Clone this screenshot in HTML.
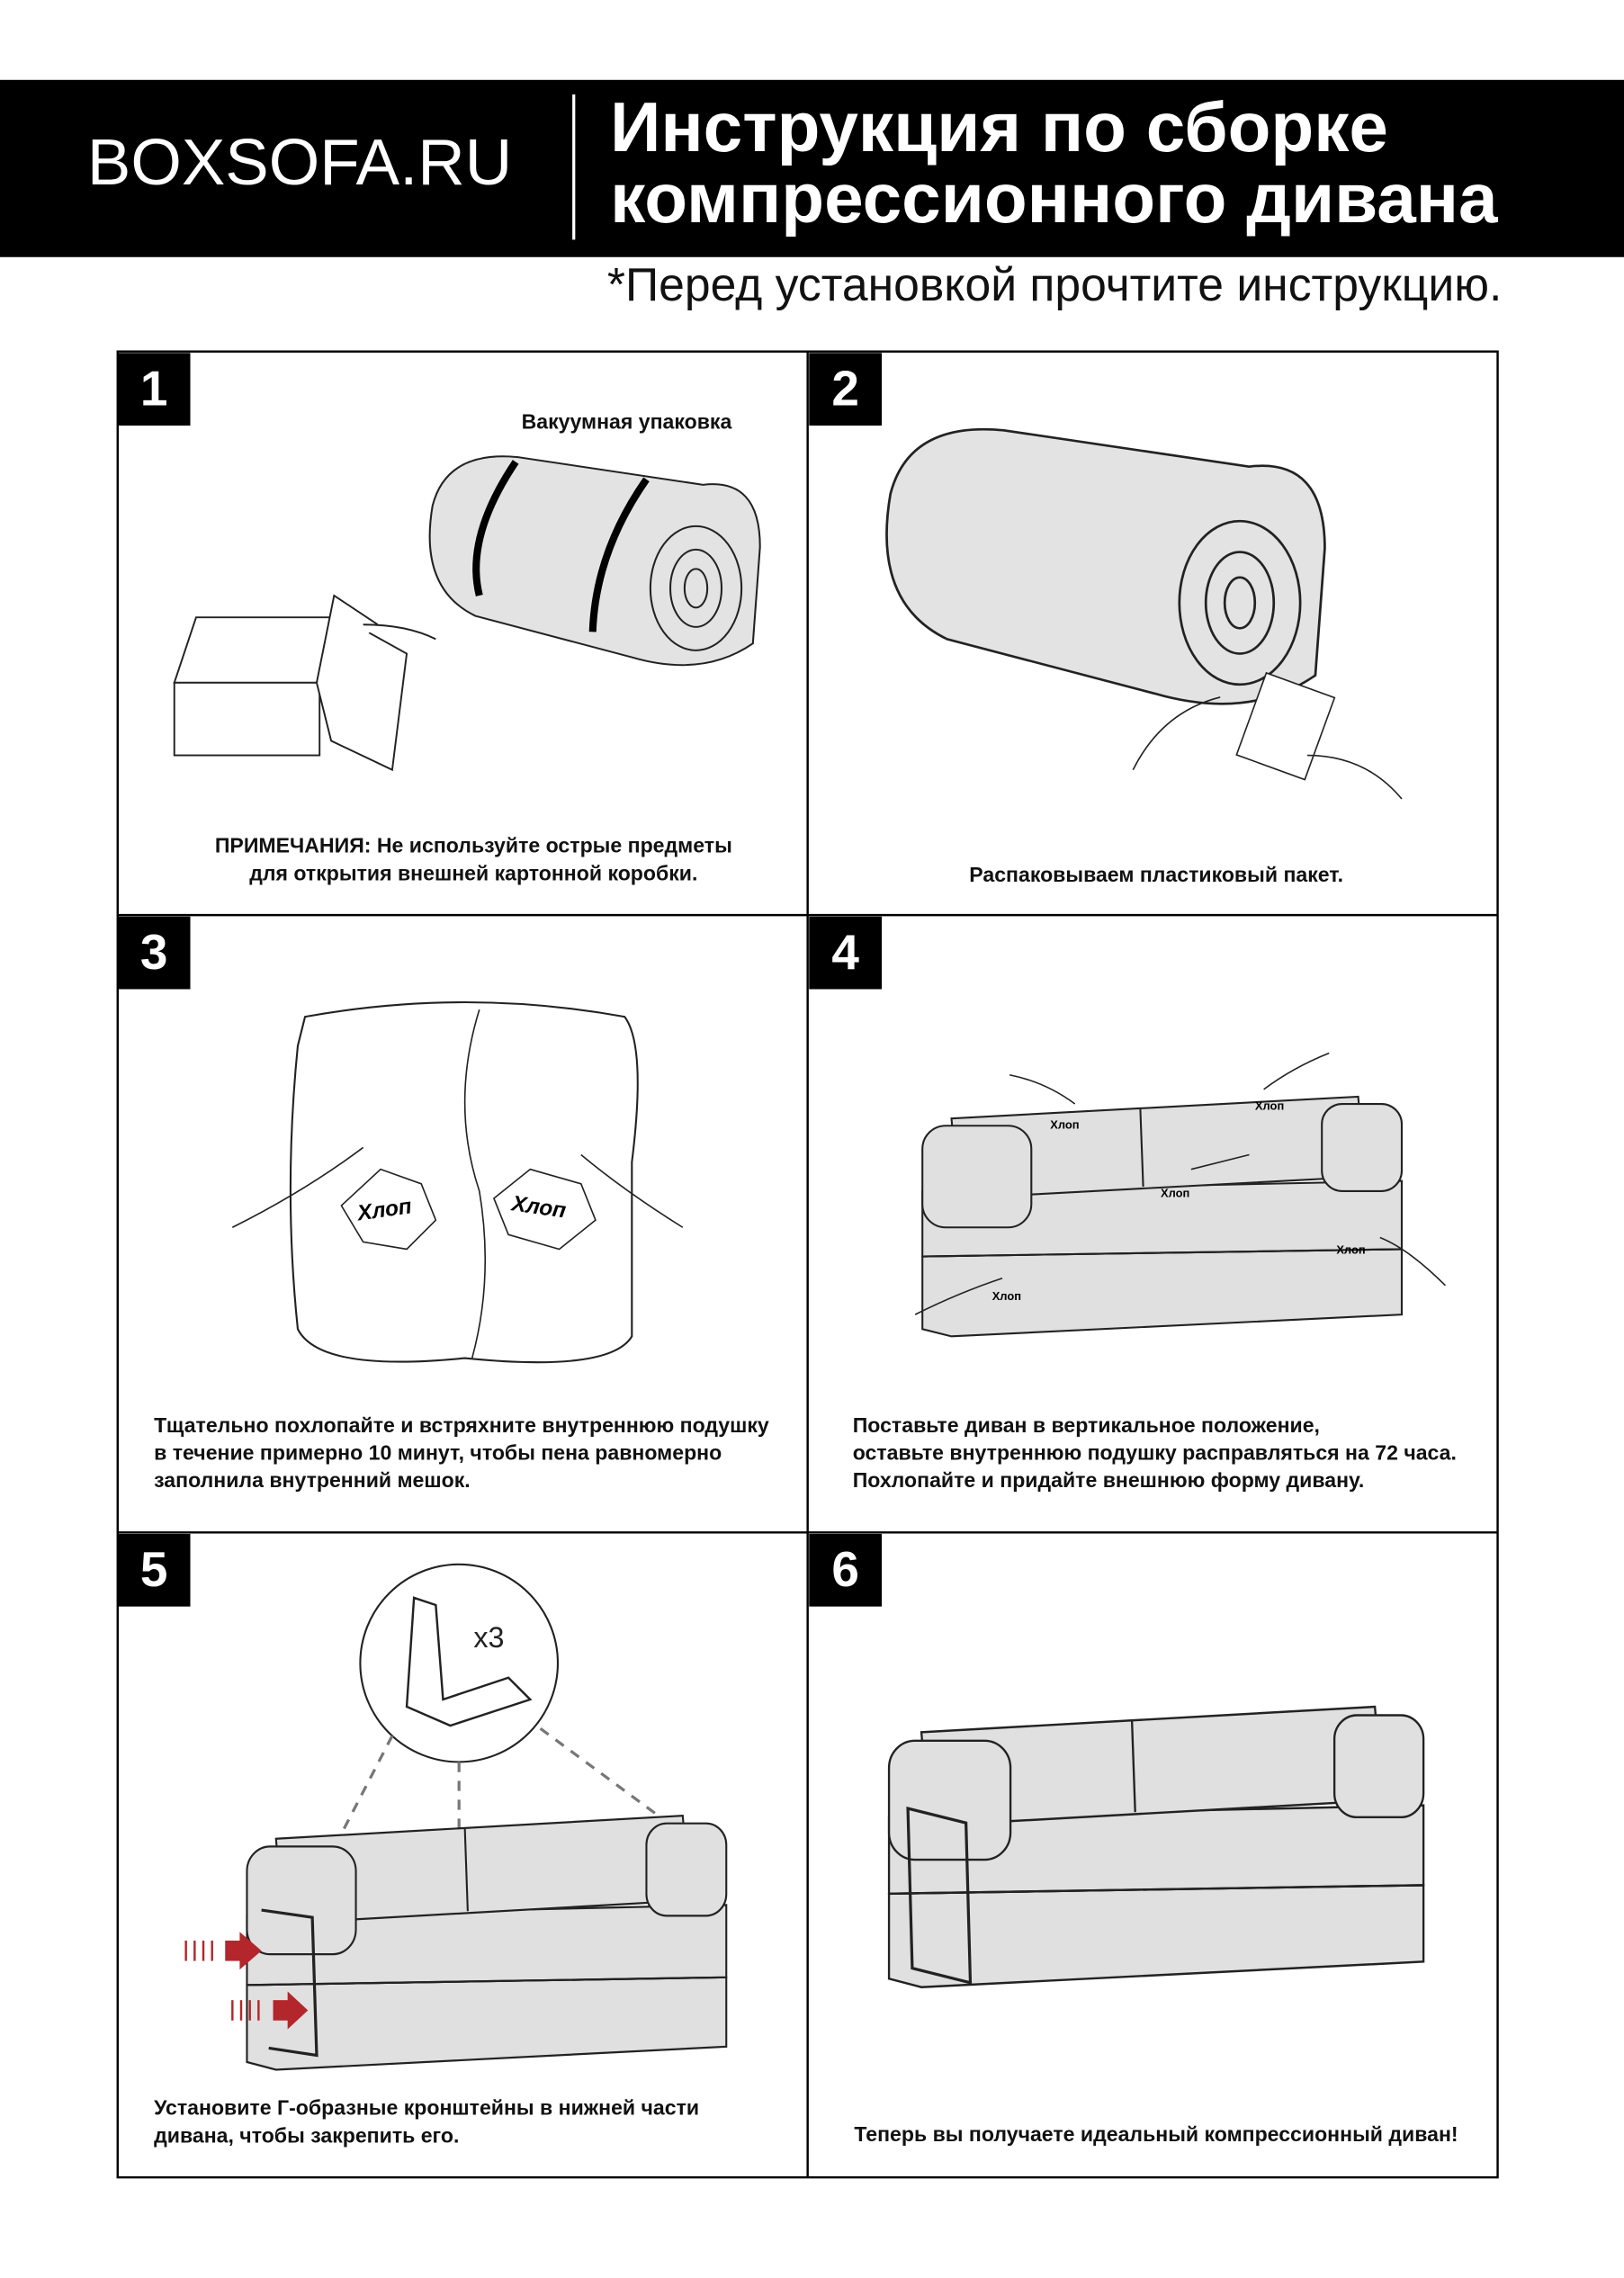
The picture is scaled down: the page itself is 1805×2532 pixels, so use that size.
<!DOCTYPE html>
<html><head><meta charset="utf-8"><style>
html,body{margin:0;padding:0;background:#fff;}
body{width:1805px;height:2532px;overflow:hidden;position:relative;}
#w{position:absolute;left:0;top:0;width:1118px;height:1568px;transform:scale(1.6145);transform-origin:0 0;font-family:"Liberation Sans","DejaVu Sans",sans-serif;}
.hdr{position:absolute;left:0;top:55px;width:1118px;height:122px;background:#000;}
.abs{position:absolute;}
.num{position:absolute;width:50px;height:50px;background:#000;color:#fff;font-weight:bold;font-size:34px;text-align:center;line-height:50px;}
.t{position:absolute;font-weight:bold;font-size:14.3px;line-height:19px;color:#111;}
</style></head><body><div id="w">
<div class="hdr"></div>
<div class="abs" style="left:60px;top:86px;color:#fff;font-size:45px;">BOXSOFA.RU</div>
<div class="abs" style="left:394px;top:65px;width:2px;height:100px;background:#fff;"></div>
<div class="abs" style="left:420px;top:64px;color:#fff;font-size:48.5px;font-weight:bold;line-height:49px;">Инструкция по сборке<br>компрессионного дивана</div>
<div class="abs" style="left:418px;top:178px;font-size:32px;color:#111;">*Перед установкой прочтите инструкцию.</div>

<svg class="abs" style="left:0;top:0" width="1118" height="1568">
<defs>
<g id="sofa" stroke="#222" stroke-width="1.3" fill="#e0e0e0">
<path d="M0,110 L330,105 L330,150 L20,165 L0,160 Z"/>
<path d="M0,65 L330,58 L330,105 L0,110 Z"/>
<path d="M20,15 L300,0 L305,55 L25,70 Z"/>
<line x1="150" y1="8" x2="152" y2="62"/>
<rect x="275" y="5" width="55" height="60" rx="14"/>
<rect x="0" y="20" width="75" height="70" rx="16"/>
<line x1="0" y1="110" x2="330" y2="105"/>
</g>
<g id="roll" stroke="#222" stroke-width="1.3">
<path d="M10,40 Q20,0 70,5 L200,25 Q240,20 240,70 L235,140 Q200,165 150,150 L40,120 Q0,100 10,40Z" fill="#e3e3e3"/>
<ellipse cx="195" cy="100" rx="32" ry="45" fill="#e3e3e3"/>
<ellipse cx="195" cy="100" rx="18" ry="28" fill="none"/>
<ellipse cx="195" cy="100" rx="8" ry="14" fill="none"/>
</g>
</defs>
<rect x="81" y="242" width="950" height="1257" fill="none" stroke="#000" stroke-width="1.5"/>
<line x1="556" y1="242" x2="556" y2="1499" stroke="#000" stroke-width="1.5"/>
<line x1="81" y1="630" x2="1031" y2="630" stroke="#000" stroke-width="1.5"/>
<line x1="81" y1="1055" x2="1031" y2="1055" stroke="#000" stroke-width="1.5"/>
<g fill="#fff" stroke="#222" stroke-width="1.2">
<path d="M120,470 L135,425 L230,425 L218,470Z"/>
<rect x="120" y="470" width="100" height="50"/>
<path d="M218,470 L235,425 L280,450 L270,530 L228,510Z"/>
<path d="M218,470 L230,410 L260,430"/>
<path d="M250,430 Q280,430 300,440" fill="none"/>
</g>
<use href="#roll" transform="translate(288,310) scale(0.98,0.95)"/>
<path d="M355,318 Q320,370 330,410" stroke="#000" stroke-width="5" fill="none"/>
<path d="M445,330 Q410,380 408,435" stroke="#000" stroke-width="5" fill="none"/>
<use href="#roll" transform="translate(600,290) scale(1.3,1.25)"/>
<g fill="#fff" stroke="#222" stroke-width="1"><rect x="860" y="470" width="50" height="60" transform="rotate(20 885 500)"/>
<path d="M780,530 Q800,490 840,480 M900,520 Q940,520 965,550" fill="none"/></g>
<path d="M210,700 Q320,680 430,700 Q445,720 435,800 L435,920 Q420,945 320,935 Q220,945 205,915 Q195,820 205,720Z" fill="#fff" stroke="#222" stroke-width="1.3"/>
<path d="M330,695 Q310,760 330,820 Q340,880 325,935" fill="none" stroke="#222"/>
<polygon points="235,830 262,805 290,815 300,840 280,860 250,855" fill="#fff" stroke="#222"/>
<polygon points="340,825 365,805 400,815 410,840 385,860 350,850" fill="#fff" stroke="#222"/>
<path d="M160,845 Q210,820 250,790 M470,845 Q430,820 400,795" fill="none" stroke="#222"/>
<text x="246" y="838" font-size="15" font-weight="bold" font-style="italic" transform="rotate(-8 262 833)">Хлоп</text>
<text x="352" y="836" font-size="15" font-weight="bold" font-style="italic" transform="rotate(8 372 833)">Хлоп</text>
<use href="#sofa" transform="translate(635,755)"/>
<g font-size="8" font-weight="bold"><text x="723" y="777">Хлоп</text><text x="864" y="764">Хлоп</text><text x="799" y="824">Хлоп</text><text x="920" y="863">Хлоп</text><text x="683" y="895">Хлоп</text></g>
<g fill="none" stroke="#222"><path d="M695,740 Q720,745 740,760 M915,725 Q890,735 870,750 M860,795 L820,805 M995,885 Q970,860 950,852 M630,905 Q660,890 690,880"/></g>
<circle cx="316" cy="1145" r="68" fill="#fff" stroke="#222" stroke-width="1.3"/>
<path d="M285,1100 L280,1175 L310,1188 L365,1170 L350,1155 L305,1170 L300,1105Z" fill="none" stroke="#222" stroke-width="1.5"/>
<text x="326" y="1134" font-size="20" fill="#222">x3</text>
<g stroke="#777" stroke-width="2" stroke-dasharray="7,6" fill="none"><line x1="270" y1="1195" x2="200" y2="1330"/><line x1="316" y1="1213" x2="316" y2="1260"/><line x1="372" y1="1190" x2="460" y2="1255"/></g>
<use href="#sofa" transform="translate(170,1250) scale(1,1.06)"/>
<path d="M180,1315 L215,1320 L218,1415 L185,1410" fill="none" stroke="#222" stroke-width="2"/>
<g fill="#b3262b"><rect x="155" y="1336" width="12" height="14"/><polygon points="165,1330 180,1343 165,1356"/><rect x="188" y="1377" width="12" height="14"/><polygon points="198,1371 212,1384 198,1397"/></g>
<g stroke="#b3262b" stroke-width="1.5"><line x1="128" y1="1336" x2="128" y2="1350"/><line x1="134" y1="1336" x2="134" y2="1350"/><line x1="140" y1="1336" x2="140" y2="1350"/><line x1="146" y1="1336" x2="146" y2="1350"/><line x1="160" y1="1377" x2="160" y2="1391"/><line x1="166" y1="1377" x2="166" y2="1391"/><line x1="172" y1="1377" x2="172" y2="1391"/><line x1="178" y1="1377" x2="178" y2="1391"/></g>
<use href="#sofa" transform="translate(612,1175) scale(1.115,1.17)"/>
<path d="M625,1245 L665,1255 L668,1365 L628,1355Z" fill="none" stroke="#222" stroke-width="2"/>
</svg>

<div class="num" style="left:81px;top:243px;">1</div>
<div class="num" style="left:557px;top:243px;">2</div>
<div class="num" style="left:81px;top:631px;">3</div>
<div class="num" style="left:557px;top:631px;">4</div>
<div class="num" style="left:81px;top:1056px;">5</div>
<div class="num" style="left:557px;top:1056px;">6</div>

<div class="t" style="left:359px;top:282px;">Вакуумная упаковка</div>
<div class="t" style="left:81px;width:490px;top:574px;text-align:center;">ПРИМЕЧАНИЯ: Не используйте острые предметы<br>для открытия внешней картонной коробки.</div>
<div class="t" style="left:556px;width:480px;top:594px;text-align:center;">Распаковываем пластиковый пакет.</div>
<div class="t" style="left:106px;top:973px;">Тщательно похлопайте и встряхните внутреннюю подушку<br>в течение примерно 10 минут, чтобы пена равномерно<br>заполнила внутренний мешок.</div>
<div class="t" style="left:587px;top:973px;">Поставьте диван в вертикальное положение,<br>оставьте внутреннюю подушку расправляться на 72 часа.<br>Похлопайте и придайте внешнюю форму дивану.</div>
<div class="t" style="left:106px;top:1443px;">Установите Г-образные кронштейны в нижней части<br>дивана, чтобы закрепить его.</div>
<div class="t" style="left:588px;top:1461px;">Теперь вы получаете идеальный компрессионный диван!</div>
</div></body></html>
